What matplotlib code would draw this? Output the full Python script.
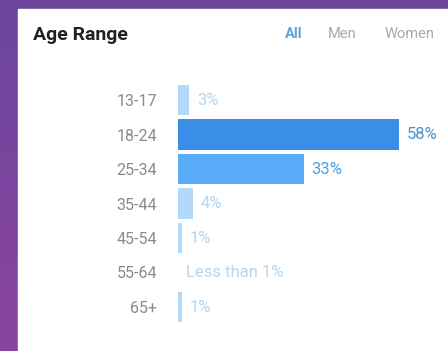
import numpy as np
import matplotlib
matplotlib.use("Agg")
import matplotlib.pyplot as plt
from matplotlib.patches import Rectangle

# data
ages = ["13-17", "18-24", "25-34", "35-44", "45-54", "55-64", "65+"]
share = [3, 58, 33, 4, 1, 0, 1]
share_text = ["3%", "58%", "33%", "4%", "1%", "Less than 1%", "1%"]
bar_colors = ["#b3d9fa", "#3a8ee8", "#5aabf8", "#b3d9fa", "#b3d9fa", "#b3d9fa", "#b3d9fa"]
text_colors = ["#b3d6f2", "#4a93c8", "#4a9fe0", "#b3d6f2", "#b3d6f2", "#b3d6f2", "#b3d6f2"]
tabs = ["All", "Men", "Women"]
tab_x = [285, 328, 385]
tab_colors = ["#5aa3e0", "#a8a8a8", "#a8a8a8"]
tab_weights = ["bold", "normal", "normal"]

plt.rcParams['font.family'] = ['Roboto', 'DejaVu Sans']

W, H = 448, 351
fig = plt.figure(figsize=(W / 100, H / 100), dpi=100)

# purple background
bg = fig.add_axes([0, 0, 1, 1])
grad = np.linspace(0, 1, 64)[:, None]
top = np.array([0x6c, 0x46, 0x9c]) / 255
bot = np.array([0x8a, 0x44, 0xa0]) / 255
img = top[None, None, :] * (1 - grad[:, :, None]) + bot[None, None, :] * grad[:, :, None]
bg.imshow(img, aspect="auto", extent=[0, 1, 0, 1])
bg.set_xlim(0, 1)
bg.set_ylim(0, 1)
bg.axis("off")

# white card
bg.add_patch(Rectangle((18 / W, 0), 1, (H - 9) / H, color="white", zorder=2))

# title and tabs
fig.text(33 / W, 1 - 35 / H, "Age Range", fontsize=14, fontweight="bold",
         color="#222222", va="center", ha="left")
for t, x, c, fw in zip(tabs, tab_x, tab_colors, tab_weights):
    fig.text(x / W, 1 - 34 / H, t, fontsize=10.5, color=c, fontweight=fw,
             va="center", ha="left")

# bars
x0 = 178
px_per = 221 / 58
y_top = 100 - 17.25
y_bot = 307 + 17.25
ax = fig.add_axes([x0 / W, 1 - y_bot / H, (W - x0) / W, (y_bot - y_top) / H])
ax.set_xlim(0, (W - x0) / px_per)
ax.set_ylim(len(ages) - 0.5, -0.5)
ypos = np.arange(len(ages))
ax.barh(ypos, share, height=0.88, color=bar_colors)
for i in range(len(ages)):
    ax.annotate(share_text[i], (share[i], ypos[i]), xytext=(5.5, 0), textcoords="offset points",
                va="center", ha="left", fontsize=12, color=text_colors[i])
ax.set_yticks(ypos)
ax.set_yticklabels(ages, fontsize=11.5, color="#8a8a8a")
ax.tick_params(axis="y", length=0, pad=15)
ax.set_xticks([])
for s in ax.spines.values():
    s.set_visible(False)
ax.patch.set_alpha(0)

fig.savefig("out.png", dpi=100)
